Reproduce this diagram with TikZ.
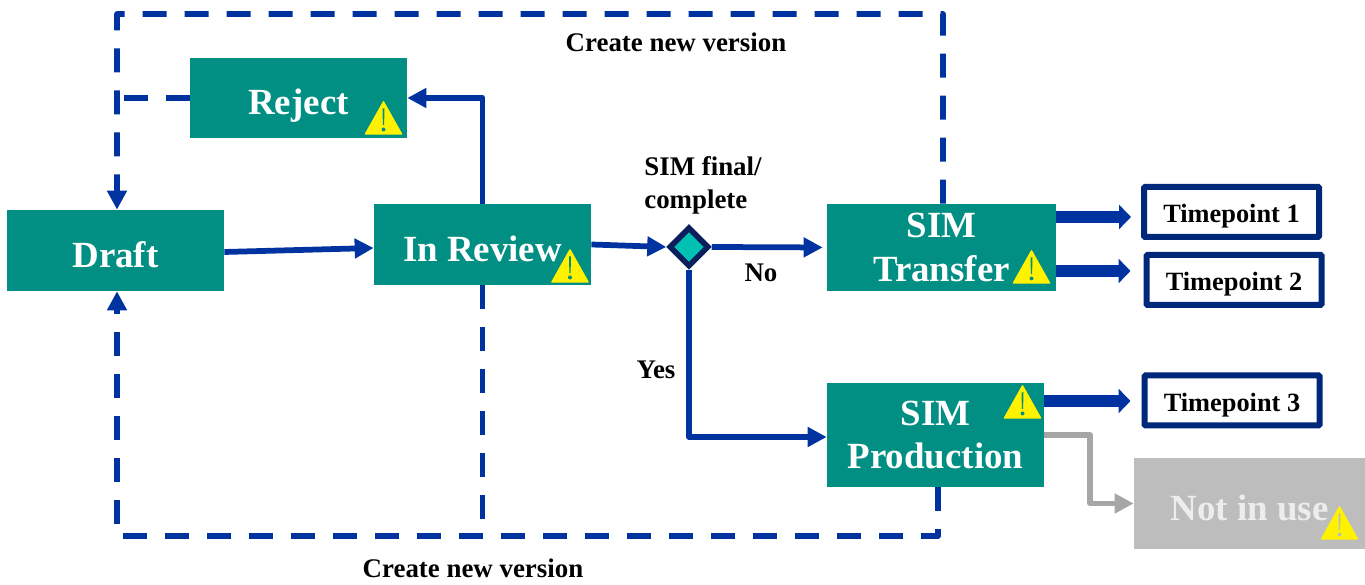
\documentclass[tikz,border=0pt]{standalone}
\usepackage{fontspec}
\setmainfont{Liberation Serif}
\usetikzlibrary{arrows.meta,shapes.geometric}
\definecolor{stateteal}{HTML}{008F82}
\definecolor{flowblue}{HTML}{0033A0}
\definecolor{timenavy}{HTML}{00287A}
\definecolor{gatefill}{HTML}{00BFB3}
\definecolor{gatenavy}{HTML}{0B1F5C}
\definecolor{idlegrey}{HTML}{BDBDBD}
\definecolor{idleflow}{HTML}{A6A6A6}
\tikzset{
    warnsign/.pic={
        \fill[yellow,draw=yellow,line width=.03cm,line join=round] (-.36,.02) -- (0,.66) -- (.36,.02) -- cycle;
        \fill[#1] (-.02,.53) -- (.02,.53) -- (.012,.2) -- (-.012,.2) -- cycle;
        \fill[#1] (0,.11) circle (.04);
    }
}
\begin{document}
\begin{tikzpicture}[
    state/.style={fill=stateteal,text=white,font=\fontsize{21}{25}\selectfont\bfseries,align=center,inner sep=0pt},
    oneline/.style={state,text height=19pt,text depth=0pt},
    twoline/.style={state,execute at begin node=\rule{0pt}{19pt}},
    timepoint/.style={draw=timenavy,fill=white,line width=.12cm,rounded corners=.02cm,minimum width=3.5cm,minimum height=1cm,inner sep=0pt,text height=12.5pt,text depth=0pt,font=\fontsize{15}{18}\selectfont\bfseries},
    note/.style={font=\fontsize{15.3}{19}\selectfont\bfseries,inner sep=0pt,align=left},
    flow/.style={draw=flowblue,line width=.115cm,line join=round,-{Triangle[length=.38cm,width=.38cm]}},
    loopback/.style={flow,dash pattern=on .48cm off .36cm},
    bigflow/.style={draw=flowblue,line width=.24cm,-{Triangle[length=.24cm,width=.48cm]}}]
    \useasboundingbox (0,0) rectangle (27.3,11.7);

    \node[oneline,minimum width=4.34cm,minimum height=1.62cm] (draft) at (2.31,6.69) {Draft};
    \node[oneline,minimum width=4.34cm,minimum height=1.6cm] (reject) at (5.97,9.74) {Reject};
    \node[oneline,minimum width=4.34cm,minimum height=1.62cm] (review) at (9.65,6.81) {In Review};
    \node[diamond,draw=gatenavy,fill=gatefill,line width=.11cm,minimum size=.8cm,inner sep=0pt] (gate) at (13.78,6.76) {};
    \node[twoline,minimum width=4.58cm,minimum height=1.74cm] (transfer) at (18.83,6.75) {SIM\\Transfer};
    \node[twoline,minimum width=4.34cm,minimum height=2.08cm] (production) at (18.71,3) {SIM\\Production};
    \node[oneline,fill=idlegrey,text=white!93!black,minimum width=4.62cm,minimum height=1.82cm] (notinuse) at (24.99,1.63) {Not in use};
    \node[timepoint] (tpone) at (24.63,7.46) {Timepoint 1};
    \node[timepoint] (tptwo) at (24.68,6.1) {Timepoint 2};
    \node[timepoint] (tpthree) at (24.64,3.69) {Timepoint 3};

    \node[note] (topnote) at (13.52,10.86) {Create new version};
    \node[note] (botnote) at (9.46,.34) {Create new version};
    \node[note,anchor=west] (gatenote) at (12.88,7.99) {SIM final/\\complete};
    \node[note] (nonote) at (15.22,6.24) {No};
    \node[note] (yesnote) at (13.12,4.3) {Yes};

    \coordinate (topleft) at (2.34,11.42);
    \coordinate (topright) at (18.86,11.42);
    \coordinate (botleft) at (2.34,.98);
    \coordinate (botright) at (18.76,.98);

    \draw[loopback] ([xshift=.03cm]transfer.north) -- (topright) -- (topleft) -- (topleft |- draft.north);
    \draw[loopback,-] (reject.west) -- (reject.west -| topleft);
    \draw[loopback] (botright |- production.south) -- (botright) -- (botleft) -- (botleft |- draft.south);
    \draw[loopback,-] (review.south) -- (review.south |- botleft);

    \draw[flow] ([yshift=-.03cm]draft.east) -- ([yshift=-.07cm]review.west);
    \draw[flow] (review.north) |- (reject.east);
    \draw[flow] (review.east) -- (gate.west);
    \draw[flow,shorten >=.08cm] (gate.east) -- (transfer.west);
    \draw[flow] (gate.south) |- ([yshift=-.04cm]production.west);

    \draw[bigflow,shorten >=.2cm] ([yshift=.61cm]transfer.east) -- ([yshift=.61cm]transfer.east -| tpone.west);
    \draw[bigflow,shorten >=.26cm] ([yshift=-.47cm]transfer.east) -- ([yshift=-.47cm]transfer.east -| tptwo.west);
    \draw[bigflow,shorten >=.22cm] ([yshift=.68cm]production.east) -- ([yshift=.68cm]production.east -| tpthree.west);
    \draw[idleflow,line width=.115cm,line join=round,-{Triangle[length=.38cm,width=.38cm]}] (production.east) -- ++(.92,0) |- (notinuse.west);

    \pic at (7.67,9) {warnsign=stateteal};
    \pic at (11.4,6.04) {warnsign=stateteal};
    \pic at (20.63,6.02) {warnsign=stateteal};
    \pic at (20.45,3.32) {warnsign=stateteal};
    \pic at (26.79,.9) {warnsign=idlegrey};
\end{tikzpicture}
\end{document}
